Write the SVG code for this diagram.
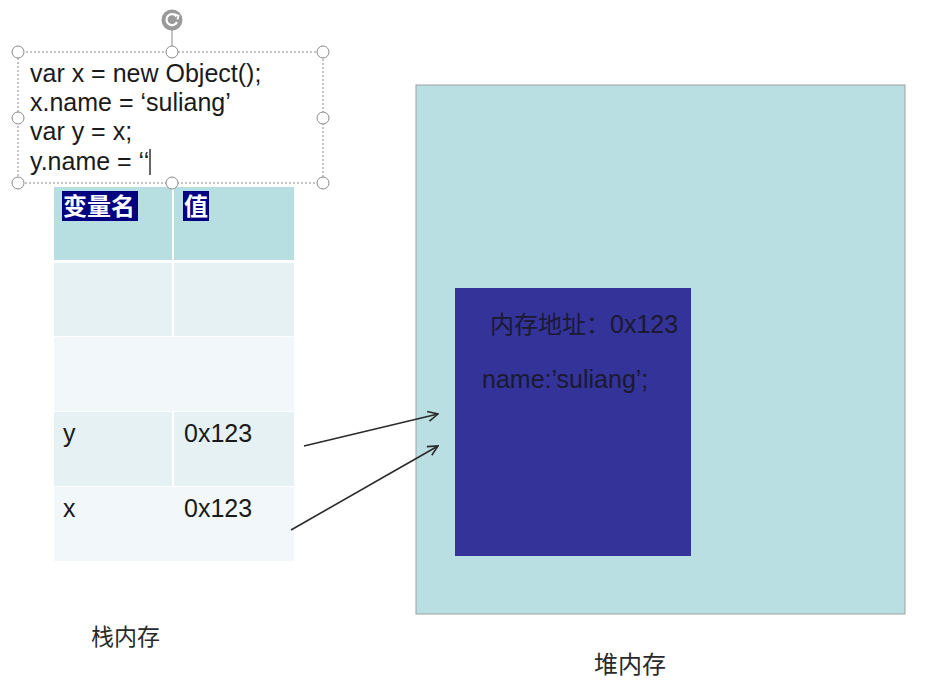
<svg xmlns="http://www.w3.org/2000/svg" width="930" height="696" viewBox="0 0 930 696">
<defs>
<style>
.t{font-family:"Liberation Sans",Arial,sans-serif;font-size:25px;fill:#1a1a1a}
.cjk{font-family:"Noto Sans CJK SC",sans-serif;font-size:23px;fill:#2a2a2a}
.hd{font-family:"Noto Sans CJK SC",sans-serif;font-size:24px;fill:#ffffff;font-weight:bold}
.h{fill:#ffffff;stroke:#8a8a8a;stroke-width:1}
.conn{stroke:#2a2a2a;stroke-width:1.6;fill:none;marker-end:url(#arr)}
</style>
<marker id="arr" viewBox="0 0 12 12" refX="11" refY="6" markerWidth="12" markerHeight="12" markerUnits="userSpaceOnUse" orient="auto">
<path d="M1,1 L11,6 L1,11" fill="none" stroke="#2a2a2a" stroke-width="1.6"/>
</marker>
</defs>
<rect width="930" height="696" fill="#ffffff"/>

<g id="heap">
<rect x="416" y="85" width="489" height="529" fill="#BADFE2" stroke="#a0a0a0" stroke-width="1"/>
<text class="cjk" x="594" y="673" style="font-size:24px">堆内存</text>
</g>

<g id="object">
<rect x="455" y="288" width="236" height="268" fill="#333399"/>
<text x="490" y="333" class="t" style="fill:#1a1a30"><tspan class="cjk" style="font-size:24px;fill:#1a1a30">内存地址：</tspan><tspan>0x123</tspan></text>
<text x="482" y="388" class="t" style="fill:#1a1a30">name:’suliang’;</text>
</g>

<g id="stack">
<rect x="54" y="187" width="118" height="73" fill="#B7DEE1"/>
<rect x="174" y="187" width="120" height="73" fill="#B7DEE1"/>
<rect x="54" y="263" width="118" height="73" fill="#E5F1F3"/>
<rect x="174" y="263" width="120" height="73" fill="#E5F1F3"/>
<rect x="54" y="337" width="240" height="74" fill="#F2F8F9"/>
<rect x="54" y="412" width="118" height="74" fill="#E5F1F3"/>
<rect x="174" y="412" width="120" height="74" fill="#E5F1F3"/>
<rect x="54" y="487" width="240" height="74" fill="#F2F8F9"/>
<rect x="62" y="191" width="76" height="30" fill="#000080"/>
<rect x="183" y="191" width="26" height="30" fill="#000080"/>
<text class="hd" x="63" y="215">变量名</text>
<text class="hd" x="184" y="215">值</text>
<text class="t" x="63" y="442">y</text>
<text class="t" x="184" y="442">0x123</text>
<text class="t" x="63" y="517">x</text>
<text class="t" x="184" y="517">0x123</text>
<text class="cjk" x="91" y="645">栈内存</text>
</g>

<g id="connectors">
<line class="conn" x1="304" y1="446" x2="438" y2="414"/>
<line class="conn" x1="291" y1="530" x2="438" y2="446"/>
</g>

<g id="codebox">
<rect x="18" y="52" width="305" height="131" fill="none" stroke="#8a8a8a" stroke-width="1" stroke-dasharray="2,2"/>
<line x1="172" y1="30" x2="172" y2="52" stroke="#8a8a8a" stroke-width="1"/>
<circle cx="172" cy="20" r="10.5" fill="#9a9a9a"/>
<path d="M176.5,16.5 A5.5,5.5 0 1 0 177,22" fill="none" stroke="#ffffff" stroke-width="2.2"/>
<path d="M174,14 L178.5,15.5 L177.5,19.5" fill="none" stroke="#ffffff" stroke-width="1.8"/>
<text class="t" x="30" y="82">var x = new Object();</text>
<text class="t" x="30" y="111">x.name = ‘suliang’</text>
<text class="t" x="30" y="140">var y = x;</text>
<text class="t" x="30" y="170">y.name = ‘‘</text>
<line x1="150" y1="149" x2="150" y2="175" stroke="#333" stroke-width="1.5"/>
<circle class="h" cx="18" cy="52" r="6"/>
<circle class="h" cx="172" cy="52" r="6"/>
<circle class="h" cx="323" cy="52" r="6"/>
<circle class="h" cx="18" cy="118" r="6"/>
<circle class="h" cx="323" cy="118" r="6"/>
<circle class="h" cx="18" cy="183" r="6"/>
<circle class="h" cx="172" cy="183" r="6"/>
<circle class="h" cx="323" cy="183" r="6"/>
</g>
</svg>
